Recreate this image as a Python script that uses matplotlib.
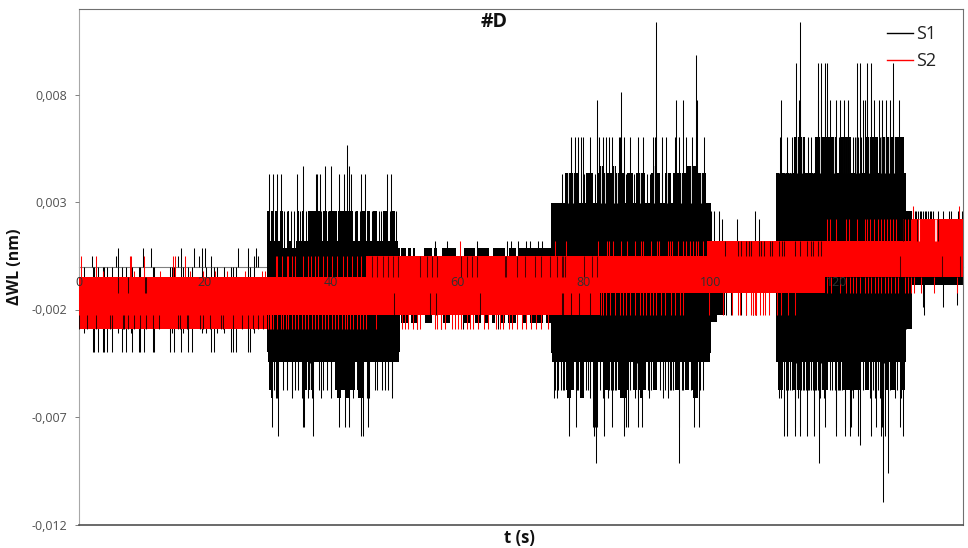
"""Recreates the "#D" wavelength-shift chart (S1 and S2 against time).

The traces are too dense to read sample by sample, so each one is kept as
its solid band plus the spikes that could be read at each amplitude level.
All values are estimates taken from the picture.
"""
import matplotlib
matplotlib.use("Agg")
import matplotlib.pyplot as plt
from matplotlib.lines import Line2D

plt.rcParams["font.family"] = ["Open Sans", "DejaVu Sans"]

X_TICKS = [0, 20, 40, 60, 80, 100, 120]
Y_TICKS = [-0.012, -0.007, -0.002, 0.003, 0.008]
Y_LABELS = ["-0,012", "-0,007", "-0,002", "0,003", "0,008"]

# solid bands, as step edges in seconds and limits in nm
S1_EDGES = [29.9, 50.9, 74.8, 100.1, 101.0, 102.3, 110.4, 131.0, 132.0, 140.0]
S1_HI = [0.00087, 0.0005, 0.00297, 0.0012, 0.0012, 0.0012, 0.00436, 0.0026, 0.0012]
S1_LO = [-0.00397, -0.00225, -0.00402, -0.0026, -0.00225, -0.00122, -0.00444, -0.0029, -0.00085]

S2_EDGES = [0.0, 45.5, 82.5, 99.5, 118.1, 132.0, 140.0]
S2_HI = [-0.0005, 0.0005, 0.0005, 0.0012, 0.0012, 0.00222]
S2_LO = [-0.00225, -0.00225, -0.00122, -0.00122, -0.0005, -0.0005]

# S1 blocks, (start, end) in seconds
S1_B_026 = [(29.87, 30.2), (30.46, 30.82), (31.09, 31.62), (31.88, 32.4), (33.2, 33.36),
            (34.6, 34.83), (35.3, 35.57), (36.36, 38.2), (38.63, 39.26), (39.68, 40.95),
            (41.1, 43.48), (44.0, 44.27), (44.8, 45.33), (45.6, 46.2), (46.65, 47.17),
            (48.23, 49.02), (49.55, 50.07)]
S1_B_012 = [(29.87, 32.4), (33.0, 33.6), (34.5, 42.9), (43.0, 50.6)]
S1_B_LOW_0444 = [(30.0, 50.7)]
S1_B_LOW_0574 = [(30.19, 30.82), (31.25, 31.77), (35.47, 36.1), (36.36, 37.26), (40.58, 43.75),
                 (44.12, 45.17), (45.59, 46.12)]
S1_B_LOW_0611 = [(30.4, 30.82), (40.95, 41.48), (42.16, 42.85), (44.27, 45.06)]
S1_MID_HI = [(51.0, 51.9), (52.2, 52.7), (52.9, 53.3), (54.7, 55.9), (56.2, 56.8), (57.5, 59.8),
             (61.0, 62.8), (63.0, 64.9), (65.6, 67.5), (68.2, 69.3), (69.6, 74.8)]
S1_MID_LO = [(51.0, 52.2), (52.7, 53.5), (54.9, 55.9), (57.7, 58.8), (60.9, 62.0), (62.8, 63.7),
             (64.4, 64.9), (65.5, 66.0), (66.9, 67.5), (68.0, 69.3), (70.2, 70.9), (71.4, 73.6),
             (74.0, 74.8)]
S1_C_044 = [(76.98, 79.09), (80.4, 81.46), (81.99, 86.47), (86.84, 87.79), (88.3, 89.63),
            (90.69, 92.0), (92.8, 93.85), (94.1, 96.23), (96.49, 99.39)]
S1_C_047 = [(96.23, 98.07), (82.6, 83.2), (84.4, 85.0), (90.9, 91.5)]
S1_C_LOW_0444 = [(74.9, 99.9)]
S1_C_LOW_0574 = [(77.24, 78.4), (79.35, 80.03), (81.46, 82.25), (83.04, 83.83), (85.41, 87.0),
                 (87.79, 89.9), (90.95, 91.58), (94.38, 95.17), (95.96, 96.6), (97.18, 98.07)]
S1_C_LOW_0611 = [(77.35, 78.03), (79.45, 80.03), (85.68, 86.84), (88.84, 89.37), (97.28, 98.07)]
S1_D_060 = [(113.21, 114.95), (116.64, 118.91), (119.17, 120.07), (120.6, 122.34), (124.45, 126.56),
            (127.08, 130.62)]
S1_D_LOW_0574 = [(110.73, 111.53), (113.11, 114.16), (117.22, 118.64), (121.02, 122.07),
                 (122.6, 123.92), (124.45, 125.13), (126.82, 128.14), (128.67, 129.35),
                 (129.98, 130.78)]

# S1 spikes, times in seconds for each amplitude level
S1_UP_0005 = [2.08, 5.93, 15.8, 19.0, 21.0, 27.7, 28.35]
S1_UP_00087 = [6.3, 10.15, 11.4, 16.3, 18.3, 19.5, 20.0, 25.2, 26.9, 28.1]
S1_UP_0012 = [56.5, 58.4, 63.15, 67.75, 68.5, 69.6, 70.9, 71.4, 72.75, 73.3]
S1_UP_0026 = [100.18, 100.55, 101.4, 107.14, 132.36, 132.63, 132.9, 133.16, 133.42, 133.69, 133.95,
              134.2, 134.47, 134.73, 135.0, 135.26, 136.05, 136.84, 137.74, 138.05, 139.2, 139.9,
              32.6, 33.0, 33.7, 34.1, 35.0, 36.0, 38.4, 39.5, 43.7, 44.5, 46.4, 47.5, 47.9, 49.3, 50.2]
S1_UP_0022 = [101.82, 104.24, 107.73]
S1_UP_0043 = [30.19, 30.82, 31.35, 31.98, 34.52, 37.58, 37.79, 38.2, 41.2, 41.95, 43.2, 44.7,
              45.33, 48.76, 49.44, 110.73, 111.52, 111.95, 112.58, 115.22, 115.74, 116.27,
              76.45, 79.5, 80.0, 81.7, 86.6, 88.0, 90.0, 90.4, 92.4]
S1_UP_0047 = [35.47, 39.0, 39.9, 42.85]
S1_UP_0057 = [42.48]
S1_UP_0060 = [77.92, 78.56, 79.09, 79.61, 79.88, 81.04, 81.99, 82.41, 82.94, 83.46, 83.99, 84.52,
              85.6, 85.75, 85.94, 86.31, 87.26, 88.58, 89.37, 90.95, 91.22, 91.48, 92.33, 92.96,
              94.38, 95.07, 96.23, 97.18, 97.81, 99.02, 122.86, 123.39, 123.92,
              111.0, 112.1, 112.9, 115.5, 116.0, 116.5, 120.35, 122.55, 123.1, 123.65, 124.2, 126.85]
S1_UP_0078 = [82.04, 94.64, 95.75, 97.91, 111.26, 114.06, 114.27, 117.06, 117.59, 118.12, 118.49,
              118.96, 119.96, 120.49, 121.18, 121.81, 124.18, 124.45, 124.82, 125.4, 125.87,
              126.71, 127.24, 127.77, 128.51, 128.93, 129.88]
S1_UP_0081 = [85.89]
S1_UP_0095 = [113.53, 117.06, 117.59, 118.12, 118.49, 123.29, 123.76, 124.82, 125.5, 128.93]
S1_UP_0099 = [97.76]
S1_UP_0114 = [91.43, 114.27]

S1_LOW_0029 = [53.5, 57.3, 60.9, 66.4]
S1_LOW_00225 = [102.56, 103.35, 104.93, 105.72, 106.78, 107.3, 133.85]
S1_LOW_0031 = [0.92, 6.3, 8.25, 14.85, 16.5, 19.6, 20.2, 22.0, 23.0, 27.8]
S1_LOW_0040 = [2.24, 2.5, 3.03, 3.82, 4.09, 4.56, 5.35, 6.83, 7.52, 8.52, 9.57, 9.73, 10.42, 11.73,
               11.95, 14.48, 15.1, 16.3, 17.4, 18.0, 20.9, 21.5, 24.2, 24.5, 24.9, 26.9, 27.1]
S1_LOW_0057 = [30.98, 32.41, 32.93, 33.73, 34.25, 34.78, 38.1, 38.74, 39.37, 39.9, 46.91, 47.28,
               47.97, 48.49, 49.02, 49.55, 75.39, 75.92, 76.71, 78.82, 80.93, 84.36, 84.89, 90.32,
               92.53, 93.33, 93.85, 95.7, 98.86, 112.32, 114.69, 115.48, 116.27, 119.7, 120.38,
               126.03, 112.0, 112.6, 113.0, 114.4, 114.9, 115.2, 115.7, 116.0, 116.5, 116.8, 117.0,
               118.9, 119.3, 119.9, 120.2, 120.6, 120.8, 122.4, 124.2, 125.4, 125.8, 126.3, 126.5,
               128.4, 129.6, 76.3, 76.9, 78.9, 79.1, 80.4, 80.7, 82.6, 84.0, 84.6, 85.1, 87.3, 90.1,
               90.6, 92.1, 92.9, 93.6, 94.1, 95.5, 96.9, 98.4]
S1_LOW_0061 = [31.25, 31.46, 33.73, 35.3, 36.36, 36.89, 38.31, 39.9, 43.48, 45.59, 46.0, 49.55,
               75.2, 75.75, 80.93, 83.04, 83.83, 88.05, 88.58, 90.32, 92.53, 93.33, 110.84, 111.26,
               113.37, 113.9, 117.33, 117.96, 122.07, 122.6, 125.35, 126.03, 126.93, 127.4, 129.19,
               130.25]
S1_LOW_0075 = [30.67, 35.47, 35.68, 41.27, 42.16, 42.8, 45.86, 77.66, 78.72, 81.5, 81.75, 81.99,
               83.2, 84.52, 86.31, 86.6, 87.0, 88.58, 89.26, 95.07, 97.39, 98.23, 112.16, 113.37,
               114.16, 116.38, 118.12, 119.96, 121.28, 122.34, 126.19, 127.24, 129.98]
S1_LOW_0079 = [31.62, 37.05, 44.64, 44.96, 77.66, 81.6, 81.85, 83.2, 86.31, 111.63, 112.16, 113.37,
               114.16, 115.32, 116.38, 119.96, 121.39, 122.18, 123.39, 125.5, 127.08, 127.61,
               130.51]
S1_LOW_0083 = [123.76]
S1_LOW_0091 = [81.93, 95.07, 117.22]
S1_LOW_0096 = [128.14]
S1_LOW_0110 = [127.35]

S1_E_LOW = [131.0, 133.6, 136.9, 139.0]
S1_E_LOW_VALUE = [-0.0029, -0.0019, -0.0019, -0.0018]

# narrow gaps inside the black blocks, times in seconds
S1_SLITS_C_TOP = [77.5, 78.2, 82.7, 83.3, 84.8, 85.2, 85.5, 88.9, 91.1, 93.2, 94.6, 95.4, 97.0, 98.6]
S1_SLITS_D_TOP = [113.7, 114.5, 117.3, 118.2, 119.6, 121.2, 121.8, 125.1, 125.9, 127.6, 128.3, 129.1, 129.9]
S1_SLITS_D_TOP2 = [111.9, 112.5, 112.7, 110.9, 116.2, 123.0, 123.6, 127.0, 130.9]
S1_SLITS_LOW = [31.0, 36.7, 40.2, 44.0, 46.5, 47.6, 48.7, 77.0, 79.0, 82.5, 84.3, 88.4, 90.5, 92.4, 93.1,
                95.6, 97.5, 98.4, 111.8, 113.5, 116.1, 117.6, 119.8, 122.4, 124.2, 126.2, 127.5, 129.8]

# S1 showing through the S2 band, times in seconds for each zone
THROUGH_A_HI = [6.3, 7.88, 10.52, 10.68]
THROUGH_A_LO = [0.0, 1.4, 2.77, 4.98, 5.25, 6.99, 7.2, 7.88, 8.83, 9.73, 10.63, 11.84, 12.79, 15.8,
                16.06, 17.11, 17.37, 19.22, 19.65, 20.8, 22.49, 22.92, 24.5, 25.82, 26.87, 27.66,
                28.45, 29.25]
THROUGH_MID_HI = [46.38, 47.17, 48.23, 49.02, 49.81, 50.6, 54.03, 55.09, 55.88, 56.67, 60.62, 61.42,
                  62.21, 63.0, 67.48, 67.74, 69.33, 70.65, 72.23, 73.28, 74.6, 75.66, 76.5, 76.75,
                  77.0, 80.03, 81.2, 82.0, 136.6, 139.5, 130.0]
THROUGH_MID_LO = [49.97, 55.56, 56.56, 63.5, 76.6, 76.71, 77.93, 79.24, 80.93]
THROUGH_RIGHT_HI = [102.3, 104.4, 104.9, 105.6, 106.2, 106.5, 107.75, 108.1, 108.5, 109.4, 109.8,
                    110.9, 111.3, 111.7, 113.4, 114.2, 115.3, 115.9, 116.3, 117.1, 117.6]
THROUGH_TOP = [130.5, 132.7, 136.0]

# S2 spikes above and below its band, times in seconds
S2_UP_FLAT = [3.9, 8.8, 12.9, 17.6, 19.65, 21.6, 23.5, 26.4, 29.0, 29.5]
S2_UP_0005 = [0.4, 2.77, 8.15, 8.35, 10.4, 14.9, 15.3, 16.85, 31.25, 31.46, 32.14, 32.93, 33.09, 33.73,
              34.25, 35.57, 36.36, 36.73, 37.42, 37.94, 38.74, 39.37, 40.05, 40.85, 41.8, 42.43,
              43.22, 44.01, 44.64]
S2_UP_0012 = [60.36, 75.5, 77.2, 82.25, 83.73, 83.95, 84.62, 85.94, 86.84, 88.05, 89.1, 89.37, 90.69,
              91.6, 91.9, 93.33, 93.6, 93.96, 94.91, 95.7, 96.23, 96.76, 97.28, 97.7, 98.07, 98.86]
S2_UP_0022 = [118.49, 118.91, 119.86, 121.55, 121.97, 123.29, 124.45, 124.82, 125.24, 125.87, 126.56,
              127.08, 127.45, 127.98, 128.4, 128.93, 129.46, 130.51, 130.78, 131.3, 131.7]
S2_UP_0028 = [132.1, 139.4]
S2_LOW_00122 = [118.49, 119.17, 120.49, 121.55, 122.07, 122.6, 123.13, 123.66, 124.45, 124.97, 125.5,
                126.03, 126.56, 127.08, 127.61, 128.14, 128.67, 129.19, 129.72, 130.78, 131.3, 131.83,
                132.3, 133.4, 135.4, 139.0]
S2_LOW_00225 = [82.78, 83.04, 83.57, 84.1, 84.89, 85.68, 86.21, 86.73, 87.26, 88.05, 88.84, 89.37, 89.9,
                90.42, 90.95, 91.48, 92.27, 92.8, 93.85, 94.38, 95.17, 95.7, 99.81, 102.03, 103.5,
                104.4, 104.67, 105.6, 106.5, 107.3, 106.78, 107.04, 107.83, 108.36, 108.62, 109.3,
                110.57, 111.26, 112.32, 113.48]
S2_LOW_0029 = [30.03, 30.3, 30.5, 30.8, 31.35, 31.98, 32.3, 32.78, 33.2, 33.73, 34.25, 34.78, 35.3, 35.83,
               36.36, 36.89, 37.42, 37.94, 38.47, 39.0, 39.53, 40.05, 40.58, 41.11, 41.64, 42.16, 42.53,
               42.95, 43.48, 44.01, 44.54, 45.07, 45.49, 47.07, 51.24, 51.66, 52.19, 52.98, 53.5, 54.03,
               56.4, 56.67, 57.35, 57.99, 59.04, 59.57, 60.1, 60.47, 61.42, 61.94, 62.47, 63.26, 64.21,
               64.84, 66.16, 66.69, 67.22, 68.17, 68.54, 69.33, 70.12, 70.91, 71.7, 72.49, 73.28, 74.34]
S2_WHITE_TOP = [133.1, 135.5, 135.7]


def band(ax, edges, hi, lo, color, zorder):
    for i in range(len(hi)):
        ax.fill_between(edges[i:i + 2], lo[i], hi[i], color=color, lw=0, zorder=zorder)


def blocks(ax, spans, lo, hi, color="black", zorder=2):
    ax.broken_barh([(a, b - a) for a, b in spans], (lo, hi - lo), color=color, lw=0, zorder=zorder)


def spikes(ax, times, lo, hi, color="black", zorder=2, alpha=1.0):
    ax.vlines(times, lo, hi, color=color, lw=0.75, zorder=zorder, alpha=alpha)


fig = plt.figure(figsize=(9.68, 5.48), dpi=100)
ax = fig.add_axes([78.5 / 968, 1 - 524.5 / 548, 884.5 / 968, 516 / 548])

# S1 (black)
band(ax, S1_EDGES, S1_HI, S1_LO, "black", 2)
blocks(ax, S1_B_026, 0, 0.0026)
blocks(ax, S1_B_012, 0, 0.0012)
blocks(ax, S1_B_LOW_0444, -0.00444, 0)
blocks(ax, S1_B_LOW_0574, -0.00574, 0)
blocks(ax, S1_B_LOW_0611, -0.00611, 0)
blocks(ax, S1_MID_HI, 0, 0.00087)
blocks(ax, S1_MID_LO, -0.00262, 0)
blocks(ax, S1_C_044, 0, 0.00436)
blocks(ax, S1_C_047, 0, 0.00466)
blocks(ax, S1_C_LOW_0444, -0.00444, 0)
blocks(ax, S1_C_LOW_0574, -0.00574, 0)
blocks(ax, S1_C_LOW_0611, -0.00611, 0)
blocks(ax, S1_D_060, 0, 0.00604)
blocks(ax, S1_D_LOW_0574, -0.00574, 0)

# gaps go in before the tallest spikes so those stay unbroken
spikes(ax, S1_SLITS_C_TOP, 0.00297, 0.0047, color="white", alpha=0.85)
spikes(ax, S1_SLITS_D_TOP, 0.00436, 0.0061, color="white", alpha=0.85)
spikes(ax, S1_SLITS_LOW, -0.0058, -0.0045, color="white", alpha=0.85)

for times, value in [(S1_UP_0005, 0.0005), (S1_UP_00087, 0.00087), (S1_UP_0012, 0.0012),
                     (S1_UP_0022, 0.00222), (S1_UP_0026, 0.0026), (S1_UP_0043, 0.0043),
                     (S1_UP_0047, 0.00466), (S1_UP_0057, 0.00567), (S1_UP_0060, 0.00604),
                     (S1_UP_0078, 0.00776), (S1_UP_0081, 0.00813), (S1_UP_0095, 0.00948),
                     (S1_UP_0099, 0.00986), (S1_UP_0114, 0.01135)]:
    spikes(ax, times, 0, value)
for times, value in [(S1_LOW_00225, -0.00225), (S1_LOW_0029, -0.0029), (S1_LOW_0031, -0.0031),
                     (S1_LOW_0040, -0.00397), (S1_LOW_0057, -0.00574), (S1_LOW_0061, -0.00611),
                     (S1_LOW_0075, -0.00746), (S1_LOW_0079, -0.00788), (S1_LOW_0083, -0.0083),
                     (S1_LOW_0091, -0.00914), (S1_LOW_0096, -0.0096), (S1_LOW_0110, -0.01096)]:
    spikes(ax, times, value, 0)
spikes(ax, S1_E_LOW, S1_E_LOW_VALUE, 0)
spikes(ax, S1_SLITS_D_TOP2, 0.00436, 0.0061, color="white", alpha=0.6)
band(ax, [132.0, 140.0], [0.0], [-0.00085], "black", 2)

# S2 (red)
band(ax, S2_EDGES, S2_HI, S2_LO, "#ff0000", 3)
blocks(ax, [(0.0, 29.9)], -0.0029, -0.0022, color="#ff0000", zorder=3)
spikes(ax, S2_UP_FLAT, -0.0006, -0.0002, color="#ff0000", zorder=3)
spikes(ax, S2_UP_0005, -0.0006, 0.0005, color="#ff0000", zorder=3)
spikes(ax, S2_UP_0012, 0.0004, 0.0012, color="#ff0000", zorder=3)
spikes(ax, S2_UP_0022, 0.0011, 0.00222, color="#ff0000", zorder=3)
spikes(ax, S2_UP_0028, 0.0021, 0.0028, color="#ff0000", zorder=3)
spikes(ax, S2_LOW_00122, -0.00122, -0.0005, color="#ff0000", zorder=3)
spikes(ax, S2_LOW_00225, -0.00225, -0.0011, color="#ff0000", zorder=3)
spikes(ax, S2_LOW_0029, -0.0029, -0.0022, color="#ff0000", zorder=3)

# places where the S2 band has gaps
spikes(ax, THROUGH_A_HI, -0.00122, -0.0005, zorder=4, alpha=0.8)
spikes(ax, THROUGH_A_LO, -0.0029, -0.00225, zorder=4, alpha=0.8)
spikes(ax, THROUGH_MID_HI, -0.0005, 0.0005, zorder=4, alpha=0.7)
spikes(ax, THROUGH_MID_LO, -0.00225, -0.00122, zorder=4, alpha=0.8)
spikes(ax, THROUGH_RIGHT_HI, 0.0005, 0.0012, zorder=4, alpha=0.8)
spikes(ax, THROUGH_TOP, 0.0012, 0.00222, zorder=4, alpha=0.8)
spikes(ax, S2_WHITE_TOP, 0.0012, 0.00222, color="white", zorder=4, alpha=0.8)

ax.set_xlim(0, 140)
ax.set_ylim(-0.012, 0.012)
ax.set_xticks(X_TICKS)
ax.set_xticklabels([str(v) for v in X_TICKS])
ax.set_yticks(Y_TICKS)
ax.set_yticklabels(Y_LABELS)
ax.set_axisbelow(False)
ax.xaxis.set_zorder(6)
ax.tick_params(axis="x", length=0, pad=7, labelsize=9, labelcolor="#303030")
ax.tick_params(axis="y", length=3, width=0.7, color="#808080", pad=5, labelsize=9, labelcolor="#505050")

# the horizontal axis crosses at zero, the frame stays closed below
ax.spines["bottom"].set_position(("data", 0))
ax.spines["bottom"].set_color("#808080")
ax.spines["bottom"].set_linewidth(0.8)
ax.spines["bottom"].set_zorder(1)
ax.spines["top"].set_color("#707070")
ax.spines["right"].set_color("#707070")
ax.spines["left"].set_color("#a8a8a8")
ax.plot([0, 1], [0, 0], color="#505050", lw=1.2, transform=ax.transAxes, clip_on=False, zorder=7)

ax.set_title("#D", x=0.47, y=0.973, va="center", pad=0, fontsize=14, fontweight="bold", color="#111111")
ax.set_xlabel("t (s)", fontsize=12, fontweight="bold", color="#111111", va="center")
ax.xaxis.set_label_coords(0.499, -0.0255)
ax.set_ylabel("\u0394WL (nm)", fontsize=11.5, fontweight="bold", color="#111111", va="center")
ax.yaxis.set_label_coords(-0.072, 0.5)

handles = [Line2D([], [], color="black", lw=1.0), Line2D([], [], color="#ff0000", lw=1.0)]
leg = ax.legend(handles, ["S1", "S2"], loc="upper right", bbox_to_anchor=(0.988, 0.999), frameon=False,
                fontsize=13, handlelength=1.45, handletextpad=0.15, labelspacing=0.5, labelcolor="#222222")
leg.set_zorder(8)

fig.savefig("out.png", dpi=100)
